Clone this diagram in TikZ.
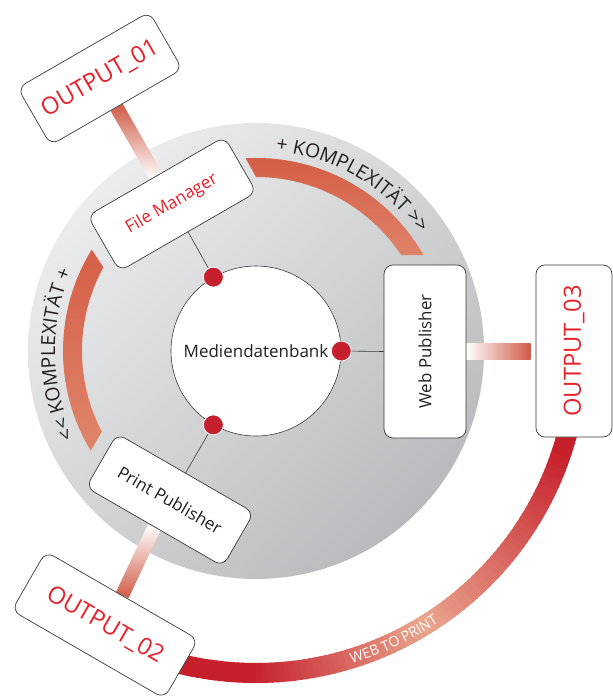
\documentclass[tikz,border=0pt]{standalone}
\usepackage{fontspec}
\setmainfont{Open Sans}
\usetikzlibrary{calc,decorations.text,shadings}
\newcommand\fsz[1]{\fontsize{#1}{#1}\selectfont}
\definecolor{boxred}{HTML}{E8202A}
\definecolor{dotred}{HTML}{C4202E}
\definecolor{ink}{HTML}{231F20}
\definecolor{bandA}{HTML}{D45A43}
\definecolor{bandB}{HTML}{E08A70}
\definecolor{wdark}{HTML}{C6202B}
\definecolor{wlight}{HTML}{E9A68E}
\definecolor{barred}{HTML}{D05A45}
\definecolor{edge}{HTML}{3A3A3A}
\definecolor{diskA}{HTML}{F6F6F7}
\definecolor{diskB}{HTML}{D3D4D6}
\definecolor{diskC}{HTML}{ADAFB2}
\pgfdeclarelayer{bg}
\pgfsetlayers{bg,main}
\begin{document}
\begin{tikzpicture}[x=1pt,y=-1pt,
  box/.style={draw=edge, line width=0.7pt, fill=white, rounded corners=9pt, inner sep=0pt, align=center, text=ink},
  outtxt/.style={text=boxred, font=\fsz{23.7}},
  hub/.style={circle, draw=edge, line width=0.6pt, fill=white, minimum size=170pt, inner sep=0pt, text=ink, font=\fsz{17}},
  dot/.style={circle, fill=dotred, draw=white, line width=0.8pt, minimum size=20pt, inner sep=0pt},
  link/.style={draw=edge, line width=0.6pt}]
\useasboundingbox (0,0) rectangle (613,699);
\coordinate (C) at (256,351);
\node[hub] (db) at (C) {Mediendatenbank};
\node[box, rotate=30, minimum width=158pt, minimum height=64pt, text=boxred, font=\fsz{17.2}] (fm) at (172,204) {File Manager};
\node[box, rotate=90, minimum width=173pt, minimum height=82pt, font=\fsz{16.9}] (wp) at (425,351.5) {Web Publisher};
\node[box, rotate=-30, minimum width=158pt, minimum height=62pt, font=\fsz{17}] (pp) at (170,500) {Print Publisher};
\node[box, rotate=30, minimum width=152pt, minimum height=66pt, outtxt] (o1) at (100,78.5) {OUTPUT\_01};
\node[box, rotate=-30, minimum width=176pt, minimum height=68pt, outtxt] (o2) at (105,625) {OUTPUT\_02};
\node[box, rotate=90, minimum width=172pt, minimum height=76pt, outtxt] (o3) at (574,351) {OUTPUT\_03};
\coordinate (p1) at (db.120);
\coordinate (p2) at (db.0);
\coordinate (p3) at (db.-120);
\draw[link] (p1) -- (fm.south);
\draw[link] (p2) -- (wp.north);
\draw[link] (p3) -- (pp.north);
\node[dot] (d1) at (p1) {};
\node[dot] (d2) at (p2) {};
\node[dot] (d3) at (p3) {};
\begin{pgfonlayer}{bg}
\shade[upper left=diskA, upper right=diskB, lower left=diskB, lower right=diskC] (C) circle[radius=228];
\begin{scope}
\clip (202.6,80) -- (298.9,255) -- (520,255) -- (520,80) -- cycle;
\shade[top color=bandA, bottom color=bandB] ($(C)+(-97:193)$) arc[start angle=-97, end angle=-26, radius=193] -- ($(C)+(-26:174)$) arc[start angle=-26, end angle=-97, radius=174] -- cycle;
\end{scope}
\begin{scope}
\clip (30,154.5) -- (152.9,343.6) -- (30,555.5) -- cycle;
\shade[top color=bandA, bottom color=bandB] ($(C)+(140:193)$) arc[start angle=140, end angle=220, radius=193] -- ($(C)+(220:174)$) arc[start angle=220, end angle=140, radius=174] -- cycle;
\end{scope}
\path[decorate, decoration={text along path, text align=center, text={|\fsz{19.4}\color{ink}|+ KOMPLEXITÄT >>}}] ($(C)+(-100:201)$) arc[start angle=-100, end angle=-20, radius=201];
\path[decorate, decoration={text along path, text align=center, text={|\fsz{19.4}\color{ink}|<< KOMPLEXITÄT +}}] ($(C)+(139:201)$) arc[start angle=139, end angle=219, radius=201];
\foreach \a in {8,9,...,110}{
  \pgfmathtruncatemacro\p{\a<18 ? 100 : (\a<58 ? 100*(58-\a)/40 : (\a<90 ? 100*(\a-58)/32 : 100))}
  \draw[line width=20pt, draw=wdark!\p!wlight] ($(C)+(\a:322)$) arc[start angle=\a, end angle=\a+1.4, radius=322];
}
\path[decorate, decoration={text along path, text align=center, text={|\fsz{14.2}\color{white}|WEB TO PRINT}}] ($(C)+(86:327)$) arc[start angle=86, end angle=43, radius=327];
\shade[top color=barred, bottom color=white] ($(o1.south)!7pt!90:(fm.north)$) -- ($(o1.south)!7pt!-90:(fm.north)$) -- ($(fm.north)!7pt!90:(o1.south)$) -- ($(fm.north)!7pt!-90:(o1.south)$) -- cycle;
\shade[top color=white, bottom color=barred] ($(pp.south)!7pt!90:(o2.north)$) -- ($(pp.south)!7pt!-90:(o2.north)$) -- ($(o2.north)!7pt!90:(pp.south)$) -- ($(o2.north)!7pt!-90:(pp.south)$) -- cycle;
\shade[left color=white, right color=barred] ($(wp.south)+(0,-8.5)$) rectangle ($(o3.north)+(-5,8.5)$);
\end{pgfonlayer}
\end{tikzpicture}
\end{document}
